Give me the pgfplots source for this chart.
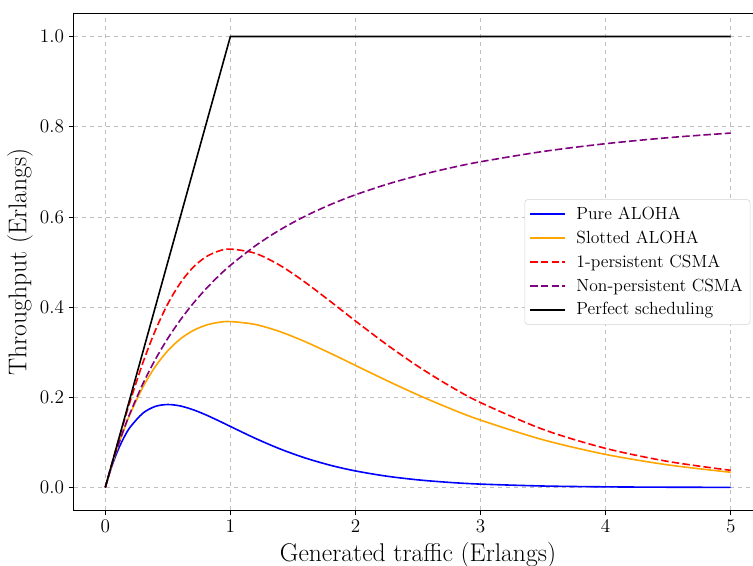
\documentclass[border=0pt]{standalone}
\usepackage{pgfplots}
\pgfplotsset{compat=1.18}
\begin{document}
\begin{tikzpicture}
\begin{axis}[
  at={(0,0)}, anchor=south west,
  scale only axis, width=516pt, height=372pt,
  xmin=-0.25, xmax=5.25, ymin=-0.05, ymax=1.05,
  xtick={0,1,2,3,4,5},
  ytick={0,0.2,0.4,0.6,0.8,1.0},
  yticklabel style={/pgf/number format/fixed,/pgf/number format/precision=1,/pgf/number format/fixed zerofill},
  tick label style={font=\fontsize{14.8}{17}\selectfont},
  tick align=outside, xtick pos=bottom, ytick pos=left,
  major tick length=4pt,
  tick style={black, line width=0.6pt},
  axis line style={line width=0.75pt},
  grid=major,
  grid style={gray!50, dashed, line width=0.5pt},
  xlabel={Generated traffic (Erlangs)},
  ylabel={Throughput (Erlangs)},
  label style={font=\fontsize{19.2}{22}\selectfont},
  xlabel style={at={(axis description cs:0.5,0)},anchor=base,yshift=-38.5pt},
  ylabel style={at={(axis description cs:-0.0785,0.5)},anchor=center},
  legend style={at={(0.983,0.5)}, anchor=east, font=\fontsize{13.2}{15}\selectfont,
    draw=gray!35, rounded corners=2pt, fill=white, row sep=3pt, inner sep=3.5pt,
    /tikz/every odd column/.append style={column sep=6pt}},
  legend cell align=left,
  legend image code/.code={\draw[line width=1.2pt,#1] (0pt,0pt) -- (26pt,0pt);},
  every axis plot/.append style={line width=1.2pt},
]
\addplot[blue, smooth] coordinates {
(0,0) (0.05,0.045242) (0.1,0.081873) (0.15,0.111123) (0.2,0.134064) (0.3,0.164644)
(0.4,0.179732) (0.5,0.183940) (0.6,0.180717) (0.7,0.172618) (0.8,0.161517)
(0.9,0.148769) (1.0,0.135335) (1.2,0.108862) (1.4,0.085134) (1.6,0.065219)
(1.8,0.049183) (2.0,0.036631) (2.25,0.024995) (2.5,0.016845) (2.75,0.011239)
(3.0,0.007436) (3.5,0.003192) (4.0,0.001342) (4.5,0.000555) (5.0,0.000227)};
\addlegendentry{Pure ALOHA}
\addplot[color={rgb,255:red,255;green,165;blue,0}, smooth] coordinates {
(0,0) (0.05,0.047561) (0.1,0.090484) (0.15,0.129106) (0.2,0.163746) (0.3,0.222245)
(0.4,0.268128) (0.5,0.303265) (0.6,0.329287) (0.7,0.347610) (0.8,0.359463)
(0.9,0.365913) (1.0,0.367879) (1.2,0.361433) (1.4,0.345236) (1.6,0.323035)
(1.8,0.297538) (2.0,0.270671) (2.25,0.237148) (2.5,0.205213) (2.75,0.175802)
(3.0,0.149361) (3.5,0.105690) (4.0,0.073263) (4.5,0.049991) (5.0,0.033690)};
\addlegendentry{Slotted ALOHA}
\addplot[red, smooth, dash pattern=on 5.6pt off 2.4pt] coordinates {
(0,0) (0.05,0.049828) (0.1,0.098857) (0.15,0.146461) (0.2,0.192120) (0.3,0.275961)
(0.4,0.348014) (0.5,0.407210) (0.6,0.453495) (0.7,0.487546) (0.8,0.510495)
(0.9,0.523713) (1.0,0.528637) (1.2,0.519172) (1.4,0.491970) (1.6,0.454617)
(1.8,0.412498) (2.0,0.369201) (2.25,0.316826) (2.5,0.268608) (2.75,0.225634)
(3.0,0.188169) (3.5,0.128734) (4.0,0.086655) (4.5,0.057634) (5.0,0.037978)};
\addlegendentry{1-persistent CSMA}
\addplot[color={rgb,255:red,128;green,0;blue,128}, smooth, dash pattern=on 5.6pt off 2.4pt] coordinates {
(0,0) (0.05,0.047573) (0.1,0.090736) (0.15,0.130070) (0.2,0.166056) (0.3,0.229548)
(0.4,0.283761) (0.5,0.330566) (0.6,0.371360) (0.7,0.407210) (0.8,0.438943)
(0.9,0.467217) (1.0,0.492550) (1.2,0.536006) (1.4,0.571865) (1.6,0.601886)
(1.8,0.627321) (2.0,0.649100) (2.25,0.672200) (2.5,0.691648) (2.75,0.708177)
(3.0,0.722336) (3.5,0.745126) (4.0,0.762411) (4.5,0.775692) (5.0,0.785980)};
\addlegendentry{Non-persistent CSMA}
\addplot[black] coordinates {(0,0) (1,1) (5,1)};
\addlegendentry{Perfect scheduling}
\end{axis}
\pgfresetboundingbox
\useasboundingbox (-55.5pt,-41.25pt) rectangle (509.25pt,382.5pt);
\end{tikzpicture}
\end{document}
